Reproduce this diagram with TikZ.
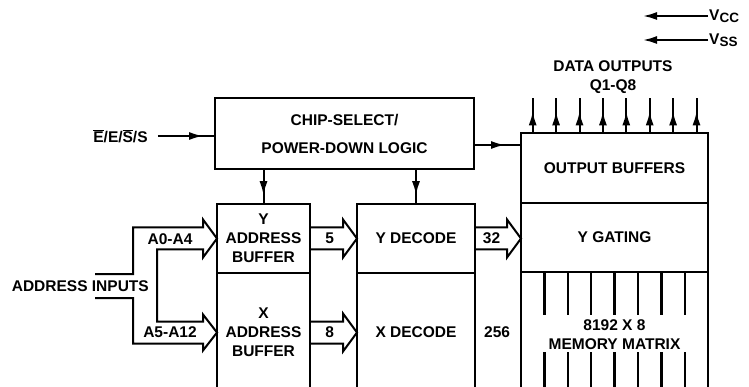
\documentclass[tikz,border=0pt]{standalone}
\usepackage{fontspec}
\setmainfont{Liberation Sans}
\usetikzlibrary{arrows.meta,positioning,calc,decorations.markings}
\newcommand{\labelfont}{\bfseries\fontsize{15.5}{19}\selectfont}
\tikzset{
  blockbox/.style={
    rectangle, draw, line width=2.3pt, outer sep=0pt,
    inner sep=0pt, align=center, font=\labelfont
  },
  plain label/.style={font=\labelfont, inner sep=1pt, align=center},
  bus/.style={line width=2pt, line join=miter},
  mid arrow/.style={line width=2pt, postaction={decorate},
    decoration={markings, mark=at position #1 with {\arrow{Latex[length=14pt,width=8pt]}}}},
  supply arrow/.style={line width=2pt, -{Latex[length=14pt,width=8pt]}}
}
% hollow bus arrow from one box edge to the next
\newcommand{\busarrow}[2]{%
  \draw[bus] let \p1=(#1), \p2=(#2) in
    (\x1,\y1+11pt) -- (\x2-14pt,\y1+11pt) -- (\x2-14pt,\y1+19pt) -- (\x2,\y1)
    -- (\x2-14pt,\y1-19pt) -- (\x2-14pt,\y1-11pt) -- (\x1,\y1-11pt);}

\begin{document}
\begin{tikzpicture}[x=1pt, y=-1pt]
    \path[use as bounding box, clip] (0,0) rectangle (749,387);

    % control block
    \node[blockbox, minimum width=259pt, minimum height=71pt] (csel) at (344.5,133.5)
      {CHIP-SELECT/\\[9pt]POWER-DOWN LOGIC};

    % address buffers and decoders
    \node[blockbox, minimum width=93pt, minimum height=69pt] (ybuf) at (263.5,238.5)
      {Y\\ADDRESS\\BUFFER};
    \node[blockbox, minimum width=93pt, minimum height=119pt, below=0pt of ybuf] (xbuf)
      {X\\ADDRESS\\BUFFER};
    \node[blockbox, minimum width=118pt, minimum height=69pt] (ydec) at (416,238.5) {Y DECODE};
    \node[blockbox, minimum width=118pt, minimum height=119pt, below=0pt of ydec] (xdec) {X DECODE};

    % output column
    \node[blockbox, minimum width=187pt, minimum height=70pt] (outbuf) at (614.5,168)
      {\raisebox{-4pt}{OUTPUT BUFFERS}};
    \node[blockbox, minimum width=187pt, minimum height=69pt, below=0pt of outbuf] (ygate) {Y GATING};
    \node[blockbox, minimum width=187pt, minimum height=120pt, below=0pt of ygate] (mem) {};
    \node[plain label] (memtext) at (614.5,334.5) {8192 X 8\\MEMORY MATRIX};
    \foreach \k in {1,...,7} {
      \draw[line width=2.3pt] ($(mem.north west)+(23.4*\k,0)$) -- ++(0,43);
      \draw[line width=2.3pt] ($(mem.south west)+(23.4*\k,0)$) -- ++(0,-40);
    }

    % data outputs
    \foreach \k in {0,...,7}
      \draw[mid arrow=0.62] ($(outbuf.north west)+(11.7+23.4*\k,0)$) -- ++(0,-35);
    \node[plain label] (dout) at (613,77.5) {DATA OUTPUTS\\Q1-Q8};

    % supplies
    \node[plain label, anchor=west] (vcc) at (708,16)
      {V\raisebox{-2pt}{\fontsize{13.5}{13.5}\selectfont CC}};
    \node[plain label, anchor=west] (vss) at (708,40)
      {V\raisebox{-2pt}{\fontsize{13.5}{13.5}\selectfont SS}};
    \coordinate (vcc end) at (643,16);
    \coordinate (vss end) at (643,40);
    \draw[supply arrow] (vcc.west) -- (vcc end);
    \draw[supply arrow] (vss.west) -- (vss end);

    % chip enable input
    \node[plain label] (cen) at (120.5,136)
      {$\overline{\hbox{E}}$/E/$\overline{\hbox{S}}$/S};
    \draw[mid arrow=0.82, shorten <=9pt] (cen.east) -- (cen.east -| csel.west);
    \draw[mid arrow=0.66] ([yshift=-11.5pt]csel.east) coordinate (cs tap) -- (cs tap -| outbuf.west);
    \draw[mid arrow=0.75] (csel.south -| ybuf.north) -- (ybuf.north);
    \draw[mid arrow=0.75] (csel.south -| ydec.north) -- (ydec.north);

    % address inputs
    \node[plain label, anchor=east] (ain) at (150,286) {ADDRESS INPUTS};
    \coordinate (ain top) at (95,274);
    \coordinate (ain bot) at (95,298);
    \draw[bus] (ain top) -- (133,274) -- (133,227.5) -- (203,227.5) -- (203,219.5) -- (ybuf.west)
      -- (203,257.5) -- (203,249.5) -- (157,249.5) -- (157,321.5) -- (203,321.5) -- (203,314.5)
      -- (xbuf.west) -- (203,350.5) -- (203,343.5) -- (133,343.5) -- (133,298) -- (ain bot);
    \node[plain label] (alo) at (170,239) {A0-A4};
    \node[plain label] (ahi) at (170,332.5) {A5-A12};

    % internal buses
    \busarrow{ybuf.east}{ydec.west}
    \busarrow{xbuf.east}{xdec.west}
    \busarrow{ydec.east}{ygate.west}
    \node[plain label] (n5) at ($(ybuf.east)!0.42!(ydec.west)$) {5};
    \node[plain label] (n8) at ($(xbuf.east)!0.42!(xdec.west)$) {8};
    \node[plain label] (n32) at ($(ydec.east)!0.36!(ygate.west)$) {32};
    \node[plain label] (n256) at ($(xdec.east)!0.48!(mem.west)$) {256};
\end{tikzpicture}
\end{document}
